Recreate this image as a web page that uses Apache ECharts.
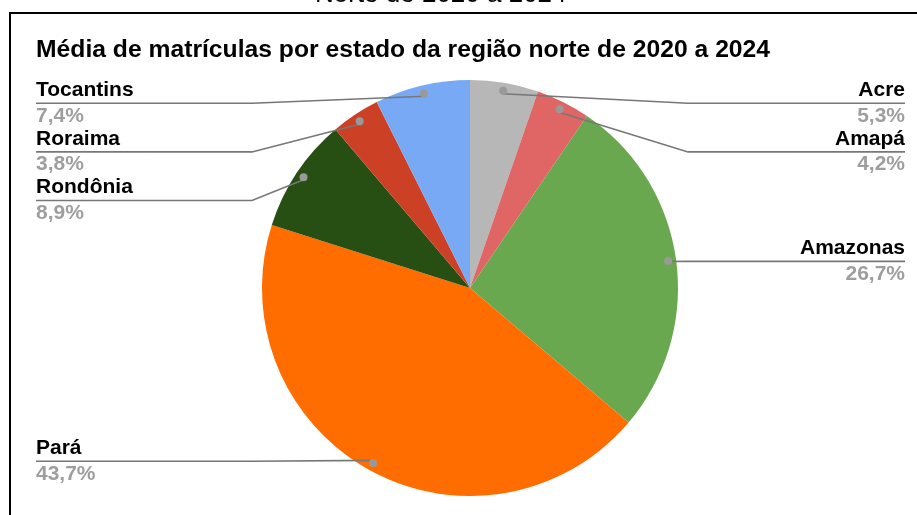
<!DOCTYPE html>
<html>
<head>
<meta charset="utf-8">
<script src="https://cdn.jsdelivr.net/npm/echarts@6/dist/echarts.min.js"></script>
<style>
html, body { margin: 0; padding: 0; background: #fff; overflow: hidden; width: 917px; height: 515px; }
#frame { position: absolute; left: 9px; top: 12px; width: 1000px; height: 600px; border-left: 2px solid #000; border-top: 2px solid #000; }
#chart { position: absolute; left: 0; top: 0; width: 917px; height: 515px; }
</style>
</head>
<body>
<div id="frame"></div>
<div id="chart"></div>
<script>
// média de matrículas (%) por estado, sentido horário a partir do topo
const states = ['Acre', 'Amapá', 'Amazonas', 'Pará', 'Rondônia', 'Roraima', 'Tocantins'];
const shares = [5.3, 4.2, 26.7, 43.7, 8.9, 3.8, 7.4];
const sliceColors = ['#b7b7b7', '#e06666', '#6aa84f', '#ff6d01', '#274e13', '#cc4125', '#78a9f5'];

const font = "'Liberation Sans', Arial, sans-serif";
const box = { left: 24, right: 0, top: 79, bottom: 0 };
const center = [446, 209];

const chart = echarts.init(document.getElementById('chart'));

const pieData = states.map((name, i) => ({
  name: name,
  value: shares[i],
  itemStyle: { color: sliceColors[i] },
}));
const ghostData = states.map((name, i) => ({ name: name, value: shares[i] }));

const options = {
  animation: false,
  title: [
    {
      text: 'Norte de 2020 a 2024',
      left: 315,
      top: -18,
      padding: 0,
      textStyle: { fontFamily: font, fontSize: 26, fontWeight: 'normal', color: '#000' },
    },
    {
      text: 'Média de matrículas por estado da região norte de 2020 a 2024',
      left: 36,
      top: 38,
      padding: 0,
      textStyle: { fontFamily: font, fontSize: 24.7, fontWeight: 'bold', color: '#000' },
    },
  ],
  series: [
    {
      type: 'pie',
      ...box,
      center: center,
      radius: 208,
      startAngle: 90,
      clockwise: true,
      silent: true,
      label: { show: false },
      labelLine: { show: false },
      itemStyle: { borderWidth: 0 },
      data: pieData,
    },
    {
      // marcadores (pontos) no fim das linhas
      type: 'pie',
      ...box,
      center: center,
      radius: [192, 202],
      startAngle: 90,
      silent: true,
      z: 5,
      emphasis: { disabled: true },
      itemStyle: { color: 'rgba(0,0,0,0)' },
      label: {
        show: true,
        position: 'inside',
        formatter: '{d| }',
        rich: {
          d: { width: 8, height: 8, borderRadius: 4, backgroundColor: '#999999', fontSize: 1 },
        },
      },
      labelLine: { show: false },
      data: ghostData,
    },
    {
      // rótulos com linhas guia
      type: 'pie',
      ...box,
      center: center,
      radius: 197,
      startAngle: 90,
      silent: true,
      z: 4,
      avoidLabelOverlap: true,
      emphasis: { disabled: true },
      itemStyle: { color: 'rgba(0,0,0,0)' },
      label: {
        show: true,
        alignTo: 'edge',
        edgeDistance: 12,
        distanceToLabelLine: 0,
        fontFamily: font,
        formatter: (p) => '{n|' + p.name + '}\n{r| }\n{v|' + String(p.value).replace('.', ',') + '%}',
        rich: {
          n: { fontFamily: font, fontSize: 21, fontWeight: 'bold', color: '#000', lineHeight: 24 },
          r: { width: 112, height: 1.6, backgroundColor: '#777777', fontSize: 1, lineHeight: 1.6 },
          v: { fontFamily: font, fontSize: 21, fontWeight: 'bold', color: '#9e9e9e', lineHeight: 24 },
        },
      },
      labelLine: {
        show: true,
        length: 1,
        length2: 20,
        lineStyle: { color: '#777777', width: 1.6 },
      },
      labelLayout: function (p) {
        const pts = p.labelLinePoints;
        if (!pts || pts.length < 3) return {};
        const onLeft = pts[2][0] < 470;
        const bendX = onLeft ? 252 : 688;
        return { labelLinePoints: [pts[0], [bendX, pts[2][1]], pts[2]] };
      },
      data: ghostData,
    },
  ],
};

chart.setOption(options);
</script>
</body>
</html>
